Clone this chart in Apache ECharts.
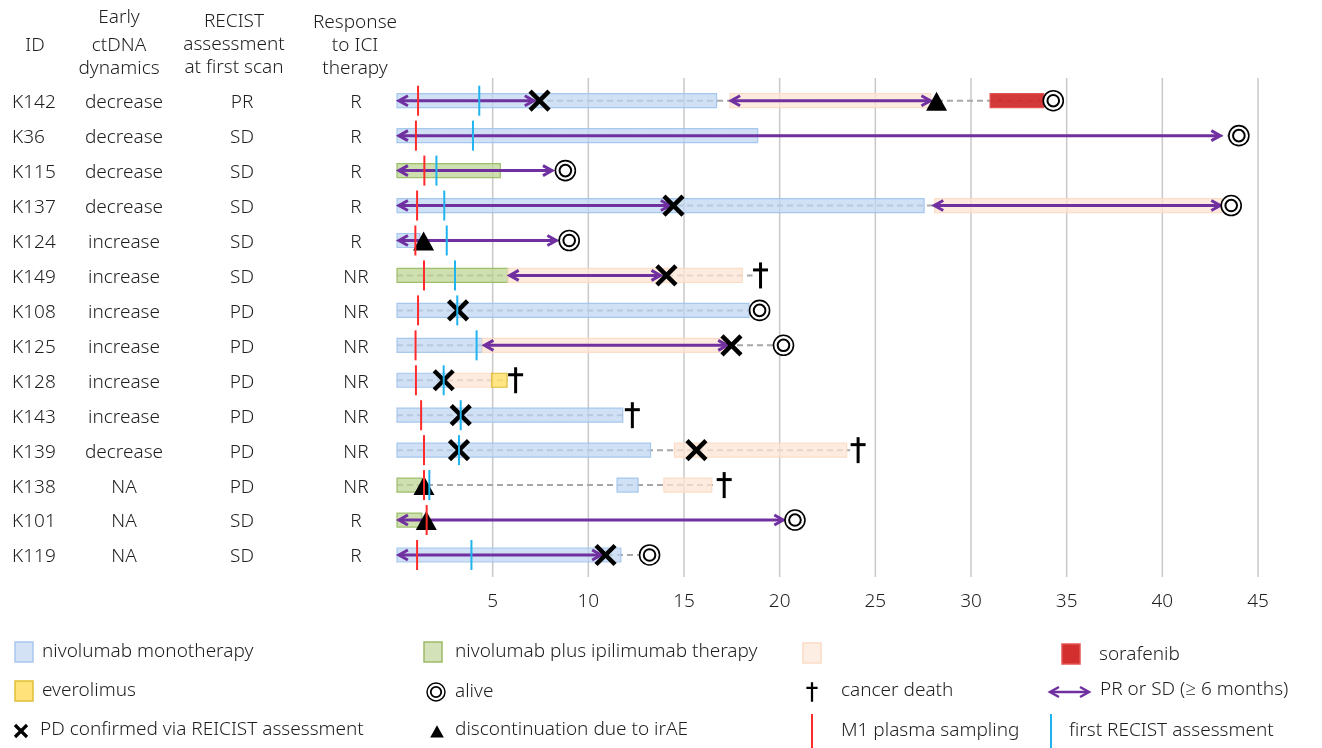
<!DOCTYPE html>
<html>
<head>
<meta charset="utf-8">
<script src="https://cdn.jsdelivr.net/npm/echarts@6/dist/echarts.min.js"></script>
<style>
  html, body { margin: 0; padding: 0; background: #fff; }
  #chart { width: 1322px; height: 748px; }
</style>
</head>
<body>
<div id="chart"></div>
<script>
// ---- patient table ----
const ids      = ['K142','K36','K115','K137','K124','K149','K108','K125','K128','K143','K139','K138','K101','K119'];
const ctdna    = ['decrease','decrease','decrease','decrease','increase','increase','increase','increase','increase','increase','decrease','NA','NA','NA'];
const recist   = ['PR','SD','SD','SD','SD','SD','PD','PD','PD','PD','PD','PD','SD','SD'];
const response = ['R','R','R','R','R','NR','NR','NR','NR','NR','NR','NR','R','R'];

// ---- treatment periods: [row, start month, end month] ----
const nivolumabMono = [[0,0,16.7],[1,0,18.85],[3,0,27.55],[4,0,1.2],[6,0,18.4],[7,0,4.45],[8,0,2.7],[9,0,11.8],[10,0,13.25],[11,11.5,12.6],[13,0,11.7]];
const nivoIpi       = [[2,0,5.4],[5,0,5.8],[11,0,1.3],[12,0,1.3]];
const laterLine     = [[0,17.4,27.9],[3,28.1,43.1],[5,5.8,18.05],[7,4.45,17.3],[8,2.7,4.95],[10,14.5,23.5],[11,13.95,16.45]];
const everolimus    = [[8,4.95,5.75]];
const sorafenib     = [[0,31.0,33.8]];

// ---- events: [row, month] ----
const followUpEnd = [[0,34.3],[1,44.0],[2,8.8],[3,43.6],[4,9.0],[5,19.0],[6,18.95],[7,20.2],[8,6.2],[9,12.3],[10,24.1],[11,17.1],[12,20.8],[13,13.2]];
const alive       = [[0,34.3],[1,44.0],[2,8.8],[3,43.6],[4,9.0],[6,18.95],[7,20.2],[12,20.8],[13,13.2]];
const death       = [[5,19.0],[8,6.2],[9,12.3],[10,24.1],[11,17.1]];
const m1Plasma    = [[0,1.1],[1,0.99],[2,1.43],[3,1.05],[4,0.96],[5,1.41],[6,1.1],[7,0.97],[8,0.99],[9,1.26],[10,1.41],[11,1.41],[12,1.55],[13,1.05]];
const firstRecist = [[0,4.3],[1,3.97],[2,2.06],[3,2.47],[4,2.6],[5,3.03],[6,3.15],[7,4.16],[8,2.44],[9,3.33],[10,3.24],[11,1.69],[13,3.89]];
const pdConfirmed = [[0,7.45],[3,14.45],[5,14.08],[6,3.19],[7,17.48],[8,2.44],[9,3.33],[10,3.24],[10,15.65],[13,10.9]];
const irAE        = [[0,28.2],[4,1.39],[11,1.41],[12,1.53]];
// PR or SD (>= 6 months): [row, start, end]
const responseSpans = [[0,0.1,7.15],[0,17.46,27.88],[1,0.1,43.03],[2,0.1,8.1],[3,0.1,14.26],[3,28.08,43.03],[4,0.1,8.33],[5,5.89,13.77],[7,4.57,17.26],[12,0.1,20.19],[13,0.1,10.67]];

// ---- x axis ticks ----
const monthTicks = [5,10,15,20,25,30,35,40,45];

const FONT = '"Noto Sans", "Open Sans", sans-serif';
const FS = 19;
const FW = 300;
const TXT = '#1e1e1e';
const PURPLE = '#7030a0';
const RED_LINE = '#ff2a2a';
const CYAN_LINE = '#1fb4ee';

const chart = echarts.init(document.getElementById('chart'), null, { renderer: 'canvas' });

function barSeries(name, data, fill, stroke) {
  return {
    type: 'custom', name, data, clip: false, z: 3,
    encode: { x: [1, 2], y: 0 },
    renderItem(params, api) {
      const s = api.coord([api.value(1), api.value(0)]);
      const e = api.coord([api.value(2), api.value(0)]);
      const h = 14;
      return { type: 'rect', shape: { x: s[0], y: s[1] - h / 2, width: e[0] - s[0], height: h },
               style: { fill, stroke, lineWidth: 1.2 } };
    }
  };
}

function vLineSeries(name, data, color, z) {
  return {
    type: 'custom', name, data, clip: false, z,
    encode: { x: 1, y: 0 },
    renderItem(params, api) {
      const p = api.coord([api.value(1), api.value(0)]);
      return { type: 'line', shape: { x1: p[0], y1: p[1] - 15, x2: p[0], y2: p[1] + 15 },
               style: { stroke: color, lineWidth: 2 } };
    }
  };
}

function crossShape(x, y, r, w) {
  return { type: 'group', children: [
    { type: 'line', shape: { x1: x - r, y1: y - r, x2: x + r, y2: y + r }, style: { stroke: '#000', lineWidth: w } },
    { type: 'line', shape: { x1: x - r, y1: y + r, x2: x + r, y2: y - r }, style: { stroke: '#000', lineWidth: w } }
  ]};
}
function ringShape(x, y, s) {
  return { type: 'group', children: [
    { type: 'circle', shape: { cx: x, cy: y, r: 10 * s }, style: { fill: '#fff', stroke: '#000', lineWidth: 1.6 * s } },
    { type: 'circle', shape: { cx: x, cy: y, r: 5.8 * s }, style: { fill: '#fff', stroke: '#000', lineWidth: 2 * s } }
  ]};
}
function daggerShape(x, y, s) {
  return { type: 'group', children: [
    { type: 'line', shape: { x1: x, y1: y - 13 * s, x2: x, y2: y + 13 * s }, style: { stroke: '#000', lineWidth: 3 * s } },
    { type: 'line', shape: { x1: x - 7.5 * s, y1: y - 5.5 * s, x2: x + 7.5 * s, y2: y - 5.5 * s }, style: { stroke: '#000', lineWidth: 3 * s } }
  ]};
}
function triangleShape(x, y, s) {
  return { type: 'polygon', shape: { points: [[x, y - 9 * s], [x - 10.5 * s, y + 10 * s], [x + 10.5 * s, y + 10 * s]] },
           style: { fill: '#000' } };
}
function doubleArrow(x1, x2, y, color, w) {
  const a = 9, b = 5;
  return { type: 'group', children: [
    { type: 'line', shape: { x1: x1 + 2, y1: y, x2: x2 - 2, y2: y }, style: { stroke: color, lineWidth: w } },
    { type: 'polyline', shape: { points: [[x1 + a, y - b], [x1, y], [x1 + a, y + b]] },
      style: { stroke: color, lineWidth: w, fill: null, lineJoin: 'miter' } },
    { type: 'polyline', shape: { points: [[x2 - a, y - b], [x2, y], [x2 - a, y + b]] },
      style: { stroke: color, lineWidth: w, fill: null, lineJoin: 'miter' } }
  ]};
}

function pointSeries(name, data, draw, z) {
  return {
    type: 'custom', name, data, clip: false, z,
    encode: { x: 1, y: 0 },
    renderItem(params, api) {
      const p = api.coord([api.value(1), api.value(0)]);
      return draw(p[0], p[1]);
    }
  };
}

// header and legend texts
function txt(x, y, text, align) {
  return { type: 'text', x, y, style: { text, fill: TXT, fontFamily: FONT, fontSize: FS, fontWeight: FW,
    textAlign: align || 'left', textVerticalAlign: 'middle' } };
}
function sq(cx, cy, fill, stroke) {
  return { type: 'rect', shape: { x: cx - 9, y: cy - 10, width: 18, height: 20 }, style: { fill, stroke, lineWidth: 1.5 } };
}

const graphics = [
  txt(35, 46, 'ID', 'center'),
  txt(119, 18, 'Early', 'center'), txt(119, 46, 'ctDNA', 'center'), txt(119, 69, 'dynamics', 'center'),
  txt(234, 22, 'RECIST', 'center'), txt(234, 45, 'assessment', 'center'), txt(234, 68, 'at first scan', 'center'),
  txt(355, 23, 'Response', 'center'), txt(355, 46, 'to ICI', 'center'), txt(355, 69, 'therapy', 'center'),
  // legend row 1
  sq(24, 652, '#d3e2f5', '#a9c8ee'), txt(42, 652, 'nivolumab monotherapy'),
  sq(433, 652, '#d3e2b9', '#9dbb68'), txt(455, 652, 'nivolumab plus ipilimumab therapy'),
  sq(812, 653, '#fdeee3', '#fbdcc6'),
  sq(1071, 654, '#d32f2f', '#e25555'), txt(1099, 655, 'sorafenib'),
  // legend row 2
  sq(24, 691, '#ffe27a', '#e0bf35'), txt(42, 691, 'everolimus'),
  ringShape(436, 692, 0.9), txt(455, 692, 'alive'),
  daggerShape(812, 692, 0.75), txt(841, 691, 'cancer death'),
  doubleArrow(1050, 1089, 692, PURPLE, 2.5), txt(1100, 690, 'PR or SD (\u2265 6 months)'),
  // legend row 3
  crossShape(21, 731, 6, 3.2), txt(40, 730, 'PD confirmed via REICIST assessment'),
  triangleShape(437, 731, 0.65), txt(455, 730, 'discontinuation due to irAE'),
  { type: 'line', shape: { x1: 812, y1: 714, x2: 812, y2: 748 }, style: { stroke: RED_LINE, lineWidth: 2 } },
  txt(841, 731, 'M1 plasma sampling'),
  { type: 'line', shape: { x1: 1051, y1: 714, x2: 1051, y2: 748 }, style: { stroke: CYAN_LINE, lineWidth: 2 } },
  txt(1069, 731, 'first RECIST assessment')
];

const option = {
  animation: false,
  backgroundColor: '#fff',
  grid: { left: 397, right: 64, top: 78, bottom: 171 },
  xAxis: {
    type: 'value', min: 0, max: 45, interval: 5,
    axisLine: { show: false }, axisTick: { show: false }, splitLine: { show: false },
    axisLabel: { color: TXT, fontFamily: FONT, fontSize: FS, fontWeight: FW, margin: 15,
                 formatter: v => (monthTicks.indexOf(v) >= 0 ? String(v) : '') }
  },
  yAxis: { type: 'value', inverse: true, min: -0.65, max: 13.63, show: false },
  graphic: graphics,
  series: [
    // vertical month grid lines
    {
      type: 'custom', name: 'grid', data: monthTicks.map(v => [v]), clip: false, z: 1,
      encode: { x: 0 },
      renderItem(params, api) {
        const cs = params.coordSys;
        const x = api.coord([api.value(0), 0])[0];
        return { type: 'line', shape: { x1: x, y1: cs.y, x2: x, y2: cs.y + cs.height },
                 style: { stroke: '#c8c8c8', lineWidth: 1.5 } };
      }
    },
    // table rows
    {
      type: 'custom', name: 'table', data: ids.map((d, i) => [i]), clip: false, z: 2,
      encode: { y: 0 },
      renderItem(params, api) {
        const i = api.value(0);
        const y = api.coord([0, i])[1] + 2;
        const st = (text, x, align) => ({ type: 'text', x, y,
          style: { text, fill: TXT, fontFamily: FONT, fontSize: FS, fontWeight: FW, textAlign: align, textVerticalAlign: 'middle' } });
        return { type: 'group', children: [
          st(ids[i], 12, 'left'), st(ctdna[i], 124, 'center'), st(recist[i], 242, 'center'), st(response[i], 356, 'center')
        ]};
      }
    },
    // follow-up backbone (dashed)
    {
      type: 'custom', name: 'follow-up', data: followUpEnd, clip: false, z: 2,
      encode: { x: 1, y: 0 },
      renderItem(params, api) {
        const s = api.coord([0, api.value(0)]);
        const e = api.coord([api.value(1), api.value(0)]);
        return { type: 'line', shape: { x1: s[0], y1: s[1], x2: e[0] - 8, y2: e[1] },
                 style: { stroke: '#a8a8a8', lineWidth: 2, lineDash: [6, 4] } };
      }
    },
    barSeries('nivolumab monotherapy', nivolumabMono, 'rgba(190,213,241,0.72)', 'rgba(160,195,236,0.9)'),
    barSeries('nivolumab plus ipilimumab therapy', nivoIpi, 'rgba(190,212,150,0.75)', 'rgba(150,185,95,0.9)'),
    barSeries('subsequent therapy', laterLine, 'rgba(252,228,212,0.75)', 'rgba(251,218,195,0.9)'),
    barSeries('everolimus', everolimus, 'rgba(255,224,110,0.85)', '#dcbc3a'),
    barSeries('sorafenib', sorafenib, 'rgba(208,40,40,0.92)', '#e35050'),
    // PR / SD spans
    {
      type: 'custom', name: 'PR or SD', data: responseSpans, clip: false, z: 4,
      encode: { x: [1, 2], y: 0 },
      renderItem(params, api) {
        const s = api.coord([api.value(1), api.value(0)]);
        const e = api.coord([api.value(2), api.value(0)]);
        return doubleArrow(s[0], e[0], s[1], PURPLE, 3);
      }
    },
    pointSeries('PD confirmed', pdConfirmed, (x, y) => crossShape(x, y, 9.5, 4.5), 5),
    pointSeries('irAE', irAE, (x, y) => triangleShape(x, y, 1), 5),
    vLineSeries('M1 plasma sampling', m1Plasma, RED_LINE, 6),
    vLineSeries('first RECIST assessment', firstRecist, CYAN_LINE, 6),
    pointSeries('alive', alive, (x, y) => ringShape(x, y, 1), 7),
    pointSeries('cancer death', death, (x, y) => daggerShape(x, y, 1), 7)
  ]
};

chart.setOption(option);
</script>
</body>
</html>
